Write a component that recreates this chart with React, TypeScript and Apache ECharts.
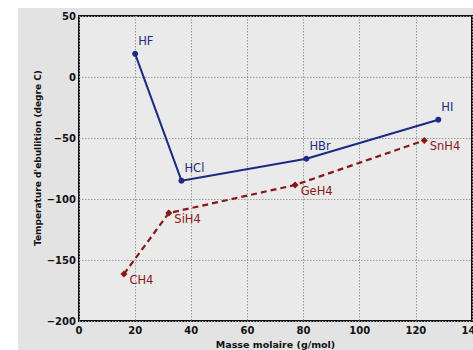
import React, { useEffect, useRef } from "react";
import * as echarts from "echarts";

const hydrogenHalides = ["HF", "HCl", "HBr", "HI"];
const halideMass = [20, 36.5, 81, 128];
const halideBoiling = [19, -85, -67, -35];

const groupHydrides = ["CH4", "SiH4", "GeH4", "SnH4"];
const hydrideMass = [16, 32, 77, 123];
const hydrideBoiling = [-161.5, -111.5, -88.5, -52];

const xTicks = { min: 0, max: 140, interval: 20 };
const yTicks = { min: -200, max: 50, interval: 50 };

const xTitle = "Masse molaire (g/mol)";
const yTitle = "Temperature d'ebullition (degre C)";

const BLUE = "#1b2a82";
const RED = "#8a1616";
const FONT = "DejaVu Sans";

const fmt = (v: number) => (v < 0 ? "\u2212" + Math.abs(v) : String(v));

export default function App() {
  const ref = useRef<HTMLDivElement>(null);
  useEffect(() => {
    if (!ref.current) return;
    const chart = echarts.init(ref.current, undefined, { renderer: "svg" });
    const axisCommon = {
      axisLine: { show: false },
      axisTick: { show: false },
      axisLabel: {
        color: "#111",
        fontFamily: FONT,
        fontWeight: "bold" as const,
        fontSize: 10,
        formatter: fmt,
      },
      splitLine: {
        show: true,
        lineStyle: { color: "#9a9a9a", type: [1.5, 1.5], width: 1 },
      },
    };
    chart.setOption({
      animation: false,
      backgroundColor: "#ffffff",
      graphic: [
        {
          type: "rect",
          z: -10,
          silent: true,
          shape: { x: 18, y: 8, width: 460, height: 345 },
          style: { fill: "#e3e3e3" },
        },
        {
          type: "text",
          x: 38,
          y: 158,
          rotation: Math.PI / 2,
          style: {
            text: yTitle,
            fill: "#111",
            font: `bold 9px "${FONT}"`,
            align: "center",
            verticalAlign: "middle",
          },
        },
      ],
      grid: {
        left: 79,
        right: 1,
        top: 16,
        bottom: 29,
        containLabel: false,
        outerBoundsMode: "none",
        show: true,
        backgroundColor: "#eaeaea",
        borderColor: "#111",
        borderWidth: 2,
      },
      xAxis: {
        type: "value",
        ...xTicks,
        ...axisCommon,
        axisLabel: { ...axisCommon.axisLabel, margin: 4 },
        name: xTitle,
        nameLocation: "middle",
        nameGap: 16,
        nameTextStyle: {
          color: "#111",
          fontFamily: FONT,
          fontWeight: "bold",
          fontSize: 9.5,
        },
      },
      yAxis: {
        type: "value",
        ...yTicks,
        ...axisCommon,
        axisLabel: { ...axisCommon.axisLabel, margin: 3 },
      },
      series: [
        {
          type: "line",
          data: halideMass.map((m, i) => [m, halideBoiling[i], hydrogenHalides[i]]),
          lineStyle: { color: BLUE, width: 2 },
          itemStyle: { color: BLUE },
          symbol: "circle",
          symbolSize: 6,
          label: {
            show: true,
            position: "right",
            distance: 0,
            offset: [0, -13],
            formatter: (p: any) => p.data[2],
            color: BLUE,
            fontFamily: FONT,
            fontSize: 11.5,
            fontWeight: 500,
          },
        },
        {
          type: "line",
          data: hydrideMass.map((m, i) => [m, hydrideBoiling[i], groupHydrides[i]]),
          lineStyle: { color: RED, width: 2.2, type: [6, 4] },
          itemStyle: { color: RED },
          symbol: "diamond",
          symbolSize: 7,
          label: {
            show: true,
            position: "right",
            distance: 2,
            offset: [0, 6],
            formatter: (p: any) => p.data[2],
            color: RED,
            fontFamily: FONT,
            fontSize: 11.5,
            fontWeight: 500,
          },
        },
      ],
    });
    return () => chart.dispose();
  }, []);
  return (
    <div
      ref={ref}
      style={{ position: "fixed", left: 0, top: 0, width: 473, height: 350, background: "#fff" }}
    />
  );
}
